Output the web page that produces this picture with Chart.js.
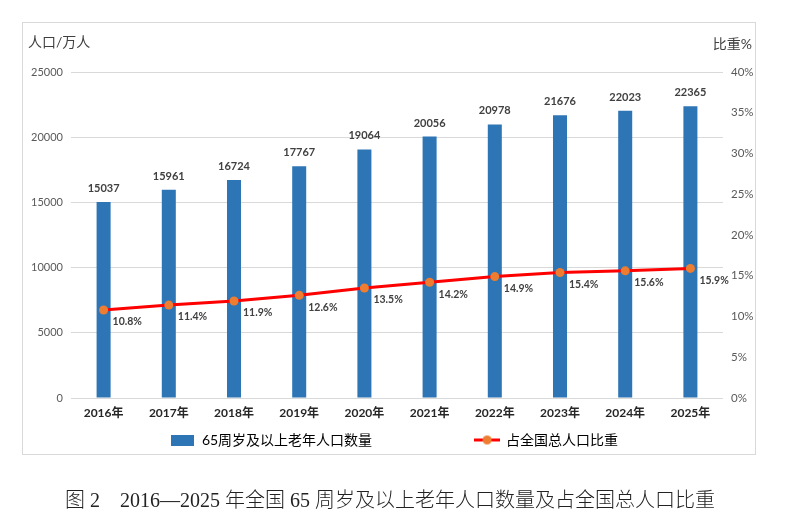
<!DOCTYPE html>
<html>
<head>
<meta charset="utf-8">
<script src="https://cdn.jsdelivr.net/npm/chart.js@4.4.1/dist/chart.umd.min.js"></script>
<style>
  html, body { margin: 0; padding: 0; background: #fff; }
  #wrap { position: relative; width: 795px; height: 531px; overflow: hidden; }
  #frame { position: absolute; left: 22px; top: 22px; width: 732px; height: 431px; border: 1.5px solid #d9d9d9; }
  #c { position: absolute; left: 0; top: 0; }
  .t { position: absolute; font-family: Lato, "Noto Sans CJK SC", sans-serif; color: #404040; font-size: 14px; line-height: 14px; white-space: nowrap; }
  #cap { position: absolute; left: 65px; top: 489px; font-family: "Liberation Serif", "Noto Sans CJK SC", serif; font-size: 20px; line-height: 22px; color: #222; white-space: pre; font-weight: 300; }
</style>
</head>
<body>
<div id="wrap">
  <div id="frame"></div>
  <canvas id="c" width="795" height="531"></canvas>
  <div class="t" style="left:28px; top:35px;">人口/万人</div>
  <div class="t" style="right:43px; top:37px;">比重%</div>
  <div id="cap">图 2    2016—2025 年全国 65 周岁及以上老年人口数量及占全国总人口比重</div>
</div>
<script>
const categories = ['2016年','2017年','2018年','2019年','2020年','2021年','2022年','2023年','2024年','2025年'];
const elderlyPopulation = [15037, 15961, 16724, 17767, 19064, 20056, 20978, 21676, 22023, 22365];
const sharePercent = [10.8, 11.4, 11.9, 12.6, 13.5, 14.2, 14.9, 15.4, 15.6, 15.9];
const leftTicks = [0, 5000, 10000, 15000, 20000, 25000];
const rightTicks = [0, 5, 10, 15, 20, 25, 30, 35, 40];
const barLabel = '65周岁及以上老年人口数量';
const lineLabel = '占全国总人口比重';

const BAR_COLOR = '#2E75B6';
const LINE_COLOR = '#FF0000';
const POINT_COLOR = '#ED7D31';
const FONT = 'Lato, "Noto Sans CJK SC", sans-serif';

function makeBarIcon() {
  const c = document.createElement('canvas');
  c.width = 23; c.height = 11;
  const g = c.getContext('2d');
  g.fillStyle = BAR_COLOR; g.fillRect(0, 0, 23, 11);
  return c;
}
function makeLineIcon() {
  const c = document.createElement('canvas');
  c.width = 26; c.height = 11;
  const g = c.getContext('2d');
  g.strokeStyle = LINE_COLOR; g.lineWidth = 3;
  g.beginPath(); g.moveTo(0, 5.5); g.lineTo(26, 5.5); g.stroke();
  g.fillStyle = POINT_COLOR;
  g.beginPath(); g.arc(13, 5.5, 4.5, 0, Math.PI * 2); g.fill();
  return c;
}
const barIcon = makeBarIcon();
const lineIcon = makeLineIcon();

const labelPlugin = {
  id: 'valueLabels',
  afterDatasetsDraw(chart) {
    const ctx = chart.ctx;
    ctx.save();
    const barMeta = chart.getDatasetMeta(0);
    ctx.font = 'bold 11px ' + FONT;
    ctx.fillStyle = '#404040';
    ctx.textAlign = 'center';
    ctx.textBaseline = 'bottom';
    barMeta.data.forEach((el, i) => {
      ctx.fillText(String(elderlyPopulation[i]), el.x, el.y - 8);
    });
    const lineMeta = chart.getDatasetMeta(1);
    ctx.font = 'bold 10.5px ' + FONT;
    ctx.textAlign = 'left';
    ctx.textBaseline = 'middle';
    lineMeta.data.forEach((el, i) => {
      ctx.fillText(sharePercent[i].toFixed(1) + '%', el.x + 9, el.y + 12);
    });
    ctx.restore();
  }
};

new Chart(document.getElementById('c'), {
  type: 'bar',
  data: {
    labels: categories,
    datasets: [
      {
        type: 'bar',
        label: barLabel,
        data: elderlyPopulation,
        backgroundColor: BAR_COLOR,
        borderWidth: 0,
        yAxisID: 'y',
        categoryPercentage: 1.0,
        barPercentage: 0.215,
        order: 2
      },
      {
        type: 'line',
        label: lineLabel,
        data: sharePercent,
        borderColor: LINE_COLOR,
        borderWidth: 3,
        pointStyle: 'circle',
        pointRadius: 4.5,
        pointBackgroundColor: POINT_COLOR,
        pointBorderColor: POINT_COLOR,
        pointBorderWidth: 0,
        tension: 0,
        yAxisID: 'y1',
        order: 1
      }
    ]
  },
  options: {
    responsive: false,
    animation: false,
    devicePixelRatio: 1,
    layout: { padding: { top: 72, left: 0, right: 6, bottom: 74 } },
    plugins: {
      tooltip: { enabled: false },
      legend: {
        position: 'bottom',
        align: 'center',
        labels: {
          usePointStyle: true,
          pointStyleWidth: 24,
          padding: 5,
          color: '#262626',
          font: { family: FONT, size: 14 },
          generateLabels() {
            return [
              { text: barLabel + '\u3000\u3000\u3000\u3000\u3000\u3000\u3000', pointStyle: barIcon, fillStyle: BAR_COLOR, strokeStyle: BAR_COLOR, lineWidth: 0, hidden: false, datasetIndex: 0 },
              { text: lineLabel, pointStyle: lineIcon, fillStyle: POINT_COLOR, strokeStyle: LINE_COLOR, lineWidth: 0, hidden: false, datasetIndex: 1 }
            ];
          }
        }
      }
    },
    scales: {
      x: {
        grid: { display: false, drawTicks: false },
        border: { display: false },
        ticks: { color: '#262626', font: { family: FONT, size: 12, weight: 'bold' }, padding: 8, maxRotation: 0 },
        afterFit(axis) { axis.height = 30; }
      },
      y: {
        position: 'left',
        min: 0, max: 25000,
        afterBuildTicks(axis) { axis.ticks = leftTicks.map(v => ({ value: v })); },
        grid: { color: '#d9d9d9', lineWidth: 1, drawTicks: false },
        border: { display: false },
        ticks: { color: '#595959', font: { family: FONT, size: 11 }, padding: 8, callback: v => String(v) },
        afterFit(axis) { axis.width = 71; }
      },
      y1: {
        position: 'right',
        min: 0, max: 40,
        afterBuildTicks(axis) { axis.ticks = rightTicks.map(v => ({ value: v })); },
        grid: { display: false, drawTicks: false },
        border: { display: false },
        ticks: { color: '#595959', font: { family: FONT, size: 11.5 }, padding: 8, callback: v => v + '%' },
        afterFit(axis) { axis.width = 66; }
      }
    }
  },
  plugins: [labelPlugin]
});
</script>
</body>
</html>
